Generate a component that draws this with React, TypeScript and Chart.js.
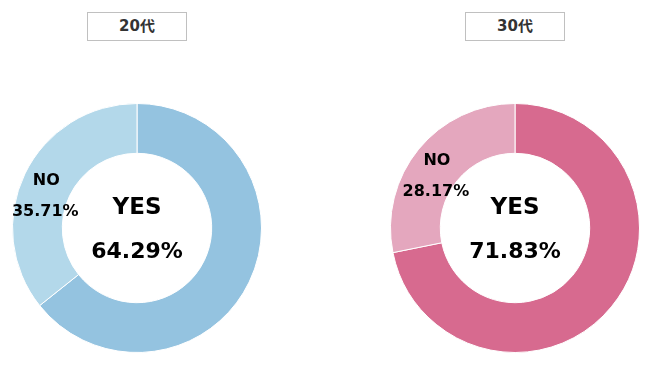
import React, { useEffect, useRef } from "react";
import { Chart, registerables } from "chart.js";
Chart.register(...registerables);

const groups = ["20代", "30代"];
const labels = ["YES", "NO"];
const yesValues = [64.29, 71.83];
const noValues = [35.71, 28.17];
const yesColors = ["#94c3e0", "#d76a8f"];
const noColors = ["#b3d8ea", "#e4a7be"];

const FONT = "'DejaVu Sans', Verdana, sans-serif";

function Donut({ idx, left }: { idx: number; left: number }) {
  const ref = useRef<HTMLCanvasElement>(null);
  useEffect(() => {
    const labelPlugin = {
      id: "labels" + idx,
      afterDraw(chart: any) {
        const ctx = chart.ctx;
        const meta = chart.getDatasetMeta(0);
        const ds = chart.data.datasets[0];
        ctx.save();
        ctx.fillStyle = "#000";
        ctx.textAlign = "center";
        ctx.textBaseline = "middle";
        const yesArc = meta.data[0];
        const cx = yesArc.x;
        const cy = yesArc.y;
        ctx.font = "bold 23px " + FONT;
        ctx.fillText(chart.data.labels[0], cx, cy - 20);
        ctx.font = "bold 22px " + FONT;
        ctx.fillText(ds.data[0].toFixed(2) + "%", cx, cy + 24);
        const noArc = meta.data[1];
        const p = noArc.tooltipPosition();
        ctx.font = "bold 16px " + FONT;
        ctx.fillText(chart.data.labels[1], p.x - 1, p.y - 4);
        ctx.fillText(ds.data[1].toFixed(2) + "%", p.x - 2, p.y + 27);
        ctx.restore();
      },
    };
    const chart = new Chart(ref.current!, {
      type: "doughnut",
      data: {
        labels: labels,
        datasets: [
          {
            data: [yesValues[idx], noValues[idx]],
            backgroundColor: [yesColors[idx], noColors[idx]],
            borderColor: "#ffffff",
            borderWidth: 1,
          },
        ],
      },
      options: {
        animation: false,
        responsive: false,
        maintainAspectRatio: false,
        cutout: "60%",
        layout: { padding: { top: 103, bottom: 16, left: 10, right: 10 } },
        plugins: { legend: { display: false }, tooltip: { enabled: false } },
      },
      plugins: [labelPlugin],
    });
    return () => chart.destroy();
  }, [idx]);
  return (
    <div style={{ position: "absolute", left, top: 0, width: 270, height: 369 }}>
      <canvas ref={ref} width={270} height={369} style={{ position: "absolute", left: 0, top: 0 }} />
      <div
        style={{
          position: "absolute",
          left: 135 - 50,
          top: 12,
          width: 98,
          height: 27,
          border: "1px solid #c0c0c0",
          boxSizing: "content-box",
          display: "flex",
          alignItems: "center",
          justifyContent: "center",
          paddingBottom: 0,
          lineHeight: "25px",
          fontFamily: "'DejaVu Sans', 'Noto Sans CJK JP', sans-serif",
          fontWeight: "bold",
          fontSize: 15,
          color: "#333",
          background: "#fff",
        }}
      >
        {groups[idx]}
      </div>
    </div>
  );
}

export default function App() {
  return (
    <div style={{ position: "fixed", left: 0, top: 0, width: 650, height: 369, background: "#fff" }}>
      <Donut idx={0} left={2} />
      <Donut idx={1} left={380} />
    </div>
  );
}
